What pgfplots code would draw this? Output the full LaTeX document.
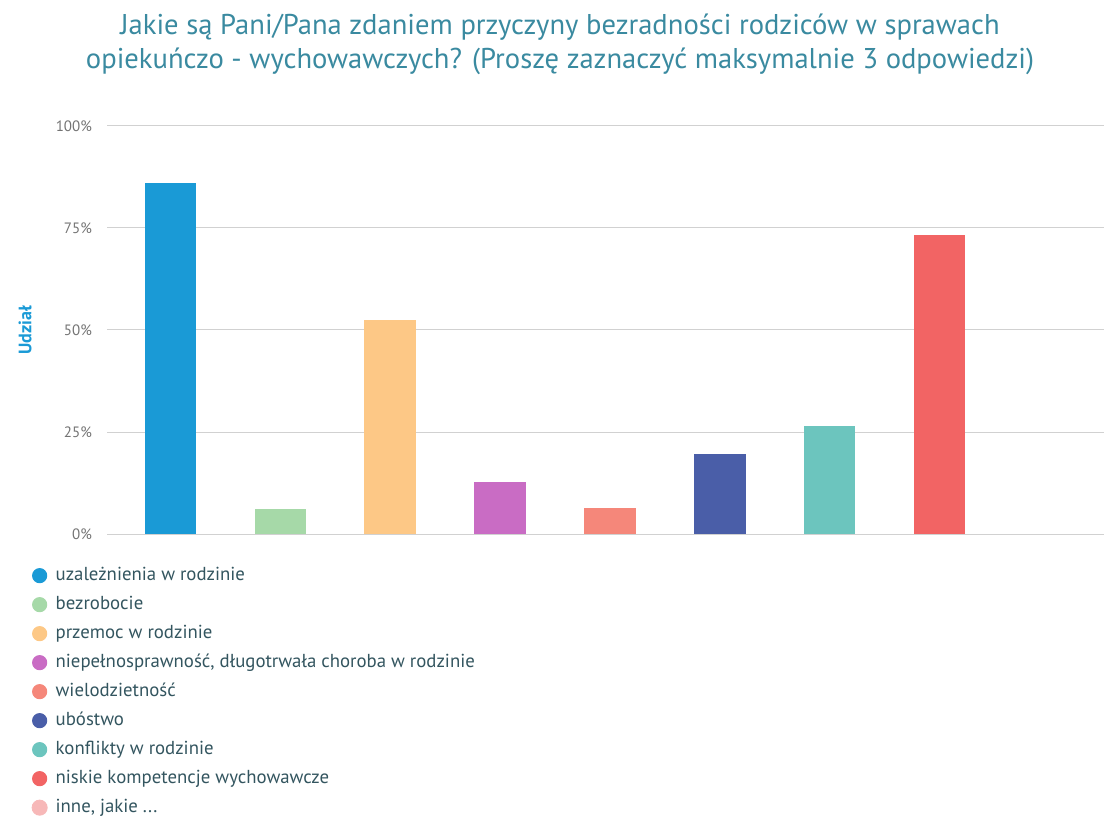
\documentclass[border=0pt]{standalone}
\usepackage{pgfplots}
\pgfplotsset{compat=1.18}
\usepackage{fontspec}
\setmainfont{PT Sans}

\definecolor{cBlue}{HTML}{1A9AD6}
\definecolor{cGreen}{HTML}{A6D9A8}
\definecolor{cOrange}{HTML}{FDC886}
\definecolor{cPurple}{HTML}{C96CC4}
\definecolor{cSalmon}{HTML}{F5877A}
\definecolor{cNavy}{HTML}{4A5EA8}
\definecolor{cTeal}{HTML}{6CC5BE}
\definecolor{cRed}{HTML}{F26464}
\definecolor{cInne}{HTML}{F7B8B8}
\definecolor{cTitle}{HTML}{3A8AA0}
\definecolor{cText}{HTML}{33555F}

\pgfplotsset{
  mybar/.style={ybar, bar shift=0pt, fill=#1, draw=none,
    legend image code/.code={\fill[#1] (3pt,0pt) circle (3.8pt);}},
}

\begin{document}
\begin{tikzpicture}
\useasboundingbox (0,0) rectangle (552pt,410pt);
\node[text=cTitle, font=\fontsize{14.3}{17}\selectfont, align=center] at (280pt,388pt)
  {Jakie są Pani/Pana zdaniem przyczyny bezradności rodziców w sprawach\\
   opiekuńczo - wychowawczych? (Proszę zaznaczyć maksymalnie 3 odpowiedzi)};
\begin{axis}[
    at={(53.5pt,143pt)}, anchor=south west,
    scale only axis,
    width=498.5pt, height=204pt,
    xmin=-0.58, xmax=8.5,
    ymin=0, ymax=100,
    bar width=0.47,
    axis line style={draw=none},
    xtick=\empty,
    ytick={0,25,50,75,100},
    yticklabel={\pgfmathprintnumber{\tick}\%},
    /pgf/number format/assume math mode=true,
    yticklabel style={text=black!55, font=\fontsize{7.5}{9}\selectfont, xshift=-4pt},
    major tick length=0pt,
    ymajorgrids,
    grid style={black!18, line width=0.5pt},
    ylabel={\textbf{Udział}},
    every axis y label/.style={at={(-41pt,0.5)}, rotate=90, anchor=center,
      text=cBlue, font=\fontsize{9}{11}\selectfont},
    legend style={draw=none, fill=none, at={(-0.082,-0.068)}, anchor=north west,
      font=\fontsize{9.4}{11}\selectfont, text=cText,
      nodes={text height=7pt, text depth=2.5pt, inner sep=0pt},
      row sep=5pt, column sep=4pt},
    legend cell align=left,
]
\addplot[mybar=cBlue]   coordinates {(0,86.0)};
\addlegendentry{uzależnienia w rodzinie}
\addplot[mybar=cGreen]  coordinates {(1,6.1)};
\addlegendentry{bezrobocie}
\addplot[mybar=cOrange] coordinates {(2,52.5)};
\addlegendentry{przemoc w rodzinie}
\addplot[mybar=cPurple] coordinates {(3,12.7)};
\addlegendentry{niepełnosprawność, długotrwała choroba w rodzinie}
\addplot[mybar=cSalmon] coordinates {(4,6.4)};
\addlegendentry{wielodzietność}
\addplot[mybar=cNavy]   coordinates {(5,19.6)};
\addlegendentry{ubóstwo}
\addplot[mybar=cTeal]   coordinates {(6,26.5)};
\addlegendentry{konflikty w rodzinie}
\addplot[mybar=cRed]    coordinates {(7,73.3)};
\addlegendentry{niskie kompetencje wychowawcze}
\addlegendimage{legend image code/.code={\fill[cInne] (3pt,0pt) circle (3.8pt);}}
\addlegendentry{inne, jakie ...}
\end{axis}
\end{tikzpicture}
\end{document}
